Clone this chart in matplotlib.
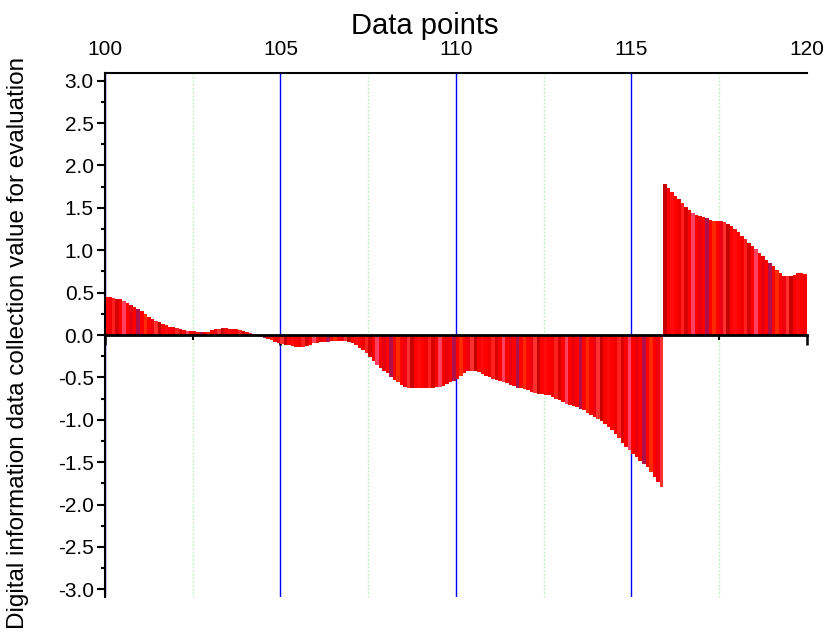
import numpy as np
import matplotlib
matplotlib.use("Agg")
from matplotlib import pyplot as plt
from matplotlib.ticker import MultipleLocator, FormatStrFormatter

#----------------data (step 0.1)----------------
x_start = 100.0
x_step = 0.1
values = [
    0.45, 0.45, 0.44, 0.43, 0.42, 0.40, 0.38, 0.35, 0.33, 0.31,   # 100
    0.28, 0.25, 0.21, 0.19, 0.17, 0.15, 0.13, 0.12, 0.10, 0.09,   # 101
    0.08, 0.07, 0.06, 0.05, 0.05, 0.05, 0.04, 0.04, 0.03, 0.04,   # 102
    0.06, 0.07, 0.07, 0.08, 0.08, 0.07, 0.07, 0.07, 0.06, 0.05,   # 103
    0.04, 0.02, 0.01, -0.01, -0.02, -0.04, -0.05, -0.06, -0.08, -0.10,   # 104
    -0.11, -0.12, -0.12, -0.13, -0.14, -0.14, -0.14, -0.13, -0.12, -0.10,  # 105
    -0.09, -0.08, -0.08, -0.08, -0.07, -0.07, -0.07, -0.07, -0.07, -0.08,  # 106
    -0.10, -0.12, -0.15, -0.18, -0.21, -0.26, -0.31, -0.35, -0.39, -0.42,  # 107
    -0.45, -0.49, -0.53, -0.56, -0.59, -0.61, -0.62, -0.62, -0.62, -0.62,  # 108
    -0.62, -0.62, -0.62, -0.62, -0.61, -0.61, -0.60, -0.58, -0.56, -0.54,  # 109
    -0.52, -0.48, -0.45, -0.42, -0.42, -0.42, -0.44, -0.46, -0.48, -0.50,  # 110
    -0.52, -0.53, -0.54, -0.56, -0.57, -0.59, -0.60, -0.62, -0.63, -0.64,  # 111
    -0.65, -0.67, -0.68, -0.69, -0.70, -0.71, -0.71, -0.73, -0.75, -0.77,  # 112
    -0.79, -0.81, -0.82, -0.84, -0.85, -0.87, -0.89, -0.92, -0.94, -0.97,  # 113
    -0.99, -1.02, -1.05, -1.08, -1.12, -1.17, -1.22, -1.27, -1.32, -1.36,  # 114
    -1.40, -1.44, -1.48, -1.52, -1.56, -1.61, -1.67, -1.73, -1.79, 1.78,   # 115
    1.73, 1.69, 1.64, 1.60, 1.56, 1.51, 1.47, 1.44, 1.42, 1.40,   # 116
    1.39, 1.38, 1.36, 1.35, 1.35, 1.35, 1.33, 1.31, 1.28, 1.25,   # 117
    1.21, 1.17, 1.13, 1.09, 1.05, 1.01, 0.97, 0.93, 0.89, 0.85,   # 118
    0.81, 0.77, 0.73, 0.70, 0.69, 0.70, 0.71, 0.73, 0.73, 0.72,   # 119
]
x_ticks = [100, 105, 110, 115, 120]
y_ticks = [-3.0, -2.5, -2.0, -1.5, -1.0, -0.5, 0.0, 0.5, 1.0, 1.5, 2.0, 2.5, 3.0]

# stripe palette for the bars (mostly red)
stripes = ['#ff0000', '#f20000', '#ff1f1f', '#d90000', '#ff0000', '#ff4060',
           '#ff0000', '#e8000f', '#ff0000', '#b0104a', '#ff0000', '#ff2a00',
           '#ff0000', '#ee0010', '#ff3030', '#c80000', '#ff0000', '#ff0a0a']
#------------------------------------------------------------------------

plt.rcParams['font.family'] = ['Liberation Sans', 'DejaVu Sans']
plt.rcParams['axes.unicode_minus'] = False

xs = x_start + x_step * np.arange(len(values))
colors = [stripes[i % len(stripes)] for i in range(len(values))]

fig = plt.figure(figsize=(8.26, 6.43), dpi=100)
ax = fig.add_axes([0.127, 0.0715, 0.85, 0.815])

ax.bar(xs, values, width=x_step, align='edge', color=colors, linewidth=0)

ax.set_xlim(100, 120)
ax.set_ylim(-3.09, 3.09)

# spines
ax.spines['right'].set_visible(False)
ax.spines['bottom'].set_position(('data', 0))
ax.spines['bottom'].set_linewidth(2.0)
ax.spines['left'].set_linewidth(1.5)
ax.spines['top'].set_linewidth(1.5)

# x axis: labels on top, ticks on the zero line
ax.xaxis.set_minor_locator(MultipleLocator(2.5))
ax.set_xticks(x_ticks)
ax.tick_params(axis='x', which='both', bottom=True, top=False,
               labelbottom=False, labeltop=True, direction='out')
ax.tick_params(axis='x', which='major', length=7, width=1.8, labelsize=15, pad=3)
ax.tick_params(axis='x', which='minor', length=3.5, width=1.5)
ax.xaxis.set_label_position('top')
ax.set_xlabel('Data points', fontsize=21)
ax.xaxis.set_label_coords(0.456, 1.074)

# y axis
ax.set_yticks(y_ticks)
ax.yaxis.set_minor_locator(MultipleLocator(0.25))
ax.yaxis.set_major_formatter(FormatStrFormatter('%.1f'))
ax.tick_params(axis='y', which='major', length=6, width=1.5, labelsize=15, pad=2)
ax.tick_params(axis='y', which='minor', length=3, width=1.5)
ax.set_ylabel('Digital information data collection value for evaluation', fontsize=17.5)
ax.yaxis.set_label_coords(-0.108, 0.485)

# grid
ax.set_axisbelow(True)
ax.grid(axis='x', which='major', color='#0000ff', linewidth=1.0, linestyle='-')
ax.grid(axis='x', which='minor', color='#a8f0a8', linewidth=1.0, linestyle=':')
ax.xaxis.get_major_ticks()[-1].gridline.set_visible(False)

fig.savefig('out.png', dpi=100)
